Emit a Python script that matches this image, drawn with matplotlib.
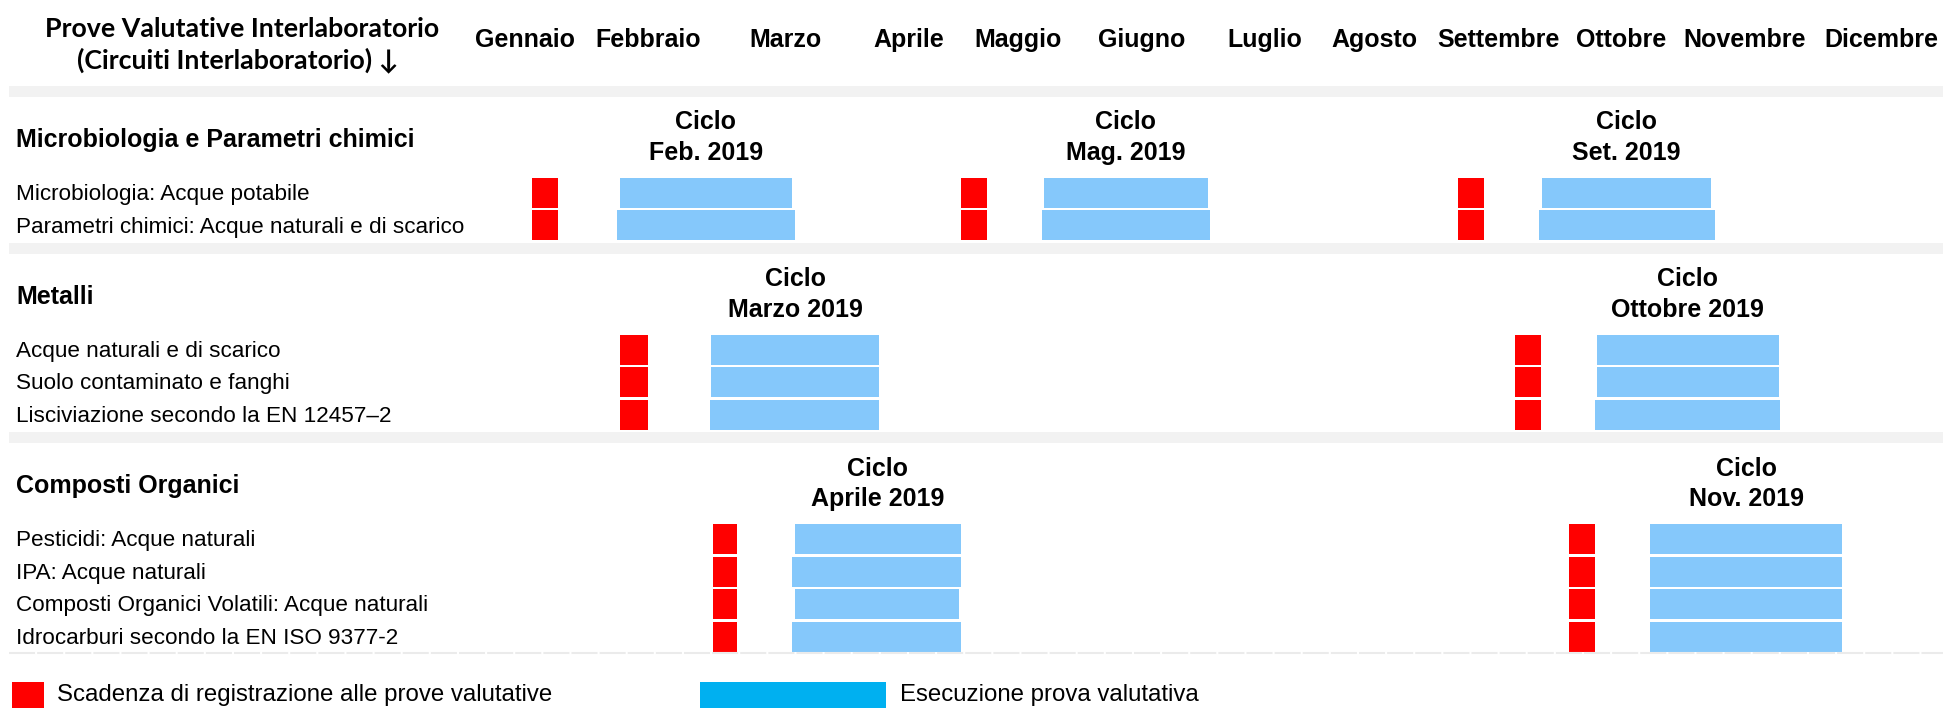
import matplotlib
matplotlib.use("Agg")
import matplotlib.pyplot as plt
from matplotlib.transforms import blended_transform_factory

# calendar header (grid is in weeks, months span 4 or 5 weeks)
months = ["Gennaio", "Febbraio", "Marzo", "Aprile", "Maggio", "Giugno",
          "Luglio", "Agosto", "Settembre", "Ottobre", "Novembre", "Dicembre"]
weeks_per_month = [4, 5, 5, 4, 4, 5, 4, 4, 5, 4, 5, 5]

section_titles = ["Microbiologia e Parametri chimici", "Metalli", "Composti Organici"]

micro_rows = ["Microbiologia: Acque potabile",
              "Parametri chimici: Acque naturali e di scarico"]
metal_rows = ["Acque naturali e di scarico",
              "Suolo contaminato e fanghi",
              "Lisciviazione secondo la EN 12457–2"]
organic_rows = ["Pesticidi: Acque naturali",
                "IPA: Acque naturali",
                "Composti Organici Volatili: Acque naturali",
                "Idrocarburi secondo la EN ISO 9377-2"]

# (start, end) in weeks from 1 January
micro_cycles = ["Feb. 2019", "Mag. 2019", "Set. 2019"]
micro_deadline = [(2.25, 3.2), (17.9, 18.85), (36.05, 37.0)]
micro_runs = [[(5.45, 11.75), (5.35, 11.85)],
              [(20.95, 26.9), (20.85, 27.0)],
              [(39.1, 45.25), (39.0, 45.4)]]

metal_cycles = ["Marzo 2019", "Ottobre 2019"]
metal_deadline = [(5.45, 6.5), (38.1, 39.05)]
metal_runs = [[(8.8, 14.9), (8.8, 14.9), (8.75, 14.9)],
              [(41.1, 47.75), (41.1, 47.75), (41.05, 47.8)]]

organic_cycles = ["Aprile 2019", "Nov. 2019"]
organic_deadline = [(8.85, 9.75), (40.1, 41.05)]
organic_runs = [[(11.85, 17.9), (11.75, 17.9), (11.85, 17.85), (11.75, 17.9)],
                [(43.05, 50.05), (43.05, 50.05), (43.05, 50.05), (43.05, 50.05)]]

legend_labels = ["Scadenza di registrazione alle prove valutative",
                 "Esecuzione prova valutativa"]

RED = "#FF0000"
BLUE = "#85C8FB"
BLUE_LEG = "#00B0F0"
BAND = "#F2F2F2"

plt.rcParams["font.family"] = ["Liberation Sans", "DejaVu Sans"]

W, H = 1943, 708
fig = plt.figure(figsize=(W / 100, H / 100), dpi=100)
ax = fig.add_axes([0, 0, 1, 1])
ax.axis("off")

wk_px = 27.41      # px per week
x0_px = 470.2      # px of 1 January
row_px = 32.5
ax.set_xlim(-x0_px / wk_px, (W - x0_px) / wk_px)
ax.set_ylim(H / row_px, 0)
xmin, xmax = ax.get_xlim()
band_left = xmin + 9 / wk_px

lab = blended_transform_factory(ax.transAxes, ax.transData)
label_x = 16 / W

# header
ax.text(242 / W, 0.89, "Prove Valutative Interlaboratorio", transform=lab,
        ha="center", va="center", fontsize=19.3, fontweight="bold",
        family=["Lato", "DejaVu Sans"])
ax.text(238 / W, 1.86, "(Circuiti Interlaboratorio) ↓", transform=lab,
        ha="center", va="center", fontsize=19.3, fontweight="bold",
        family=["Lato", "DejaVu Sans"])

start = 0
for name, nw in zip(months, weeks_per_month):
    ax.text(start + nw / 2, 1.23, name, ha="center", va="center",
            fontsize=18, fontweight="bold")
    start += nw

sections = [
    (section_titles[0], micro_rows, micro_cycles, micro_deadline, micro_runs),
    (section_titles[1], metal_rows, metal_cycles, metal_deadline, metal_runs),
    (section_titles[2], organic_rows, organic_cycles, organic_deadline, organic_runs),
]

band = 91.5 / row_px
bh = 0.92
for k, (title, rows, cycles, deadline, runs) in enumerate(sections):
    ax.barh(band, xmax - band_left, left=band_left, height=0.34,
            color=BAND, linewidth=0)
    ax.text(label_x, band + 1.48, title, transform=lab, ha="left",
            va="center", fontsize=18, fontweight="bold")
    ys = [band + 3.12 + i for i in range(len(rows))]
    for y, r in zip(ys, rows):
        ax.text(label_x, y + 0.05, r, transform=lab, ha="left", va="center",
                fontsize=16.2)
    for c, lab_c in enumerate(cycles):
        d0, d1 = deadline[c]
        ax.barh(ys, d1 - d0, left=d0, height=bh, color=RED, linewidth=0)
        s = [a for a, b in runs[c]]
        e = [b for a, b in runs[c]]
        ax.barh(ys, [b - a for a, b in zip(s, e)], left=s, height=bh,
                color=BLUE, linewidth=0)
        xc = (s[0] + e[0]) / 2
        ax.text(xc, band + 0.94, "Ciclo", ha="center", va="center",
                fontsize=18, fontweight="bold")
        ax.text(xc, band + 1.89, lab_c, ha="center", va="center",
                fontsize=18, fontweight="bold")
    band = ys[-1] + 0.71
    if k == len(sections) - 1:
        ax.plot([band_left, xmax], [ys[-1] + 0.5] * 2, color="#EBEBEB",
                lw=1.5, dashes=(12.5, 1), solid_capstyle="butt")

# legend
leg_y = 682 / row_px
fx = blended_transform_factory(ax.transAxes, ax.transData)
ax.add_patch(plt.Rectangle((12 / W, leg_y), 32 / W, 1.0, transform=fx,
                           color=RED, linewidth=0, clip_on=False))
ax.add_patch(plt.Rectangle((700 / W, leg_y), 186 / W, 1.0, transform=fx,
                           color=BLUE_LEG, linewidth=0, clip_on=False))
ax.text(57 / W, 695 / row_px, legend_labels[0], transform=fx, ha="left",
        va="center", fontsize=17.3)
ax.text(900 / W, 695 / row_px, legend_labels[1], transform=fx, ha="left",
        va="center", fontsize=17.3)

fig.savefig("out.png", dpi=100)
